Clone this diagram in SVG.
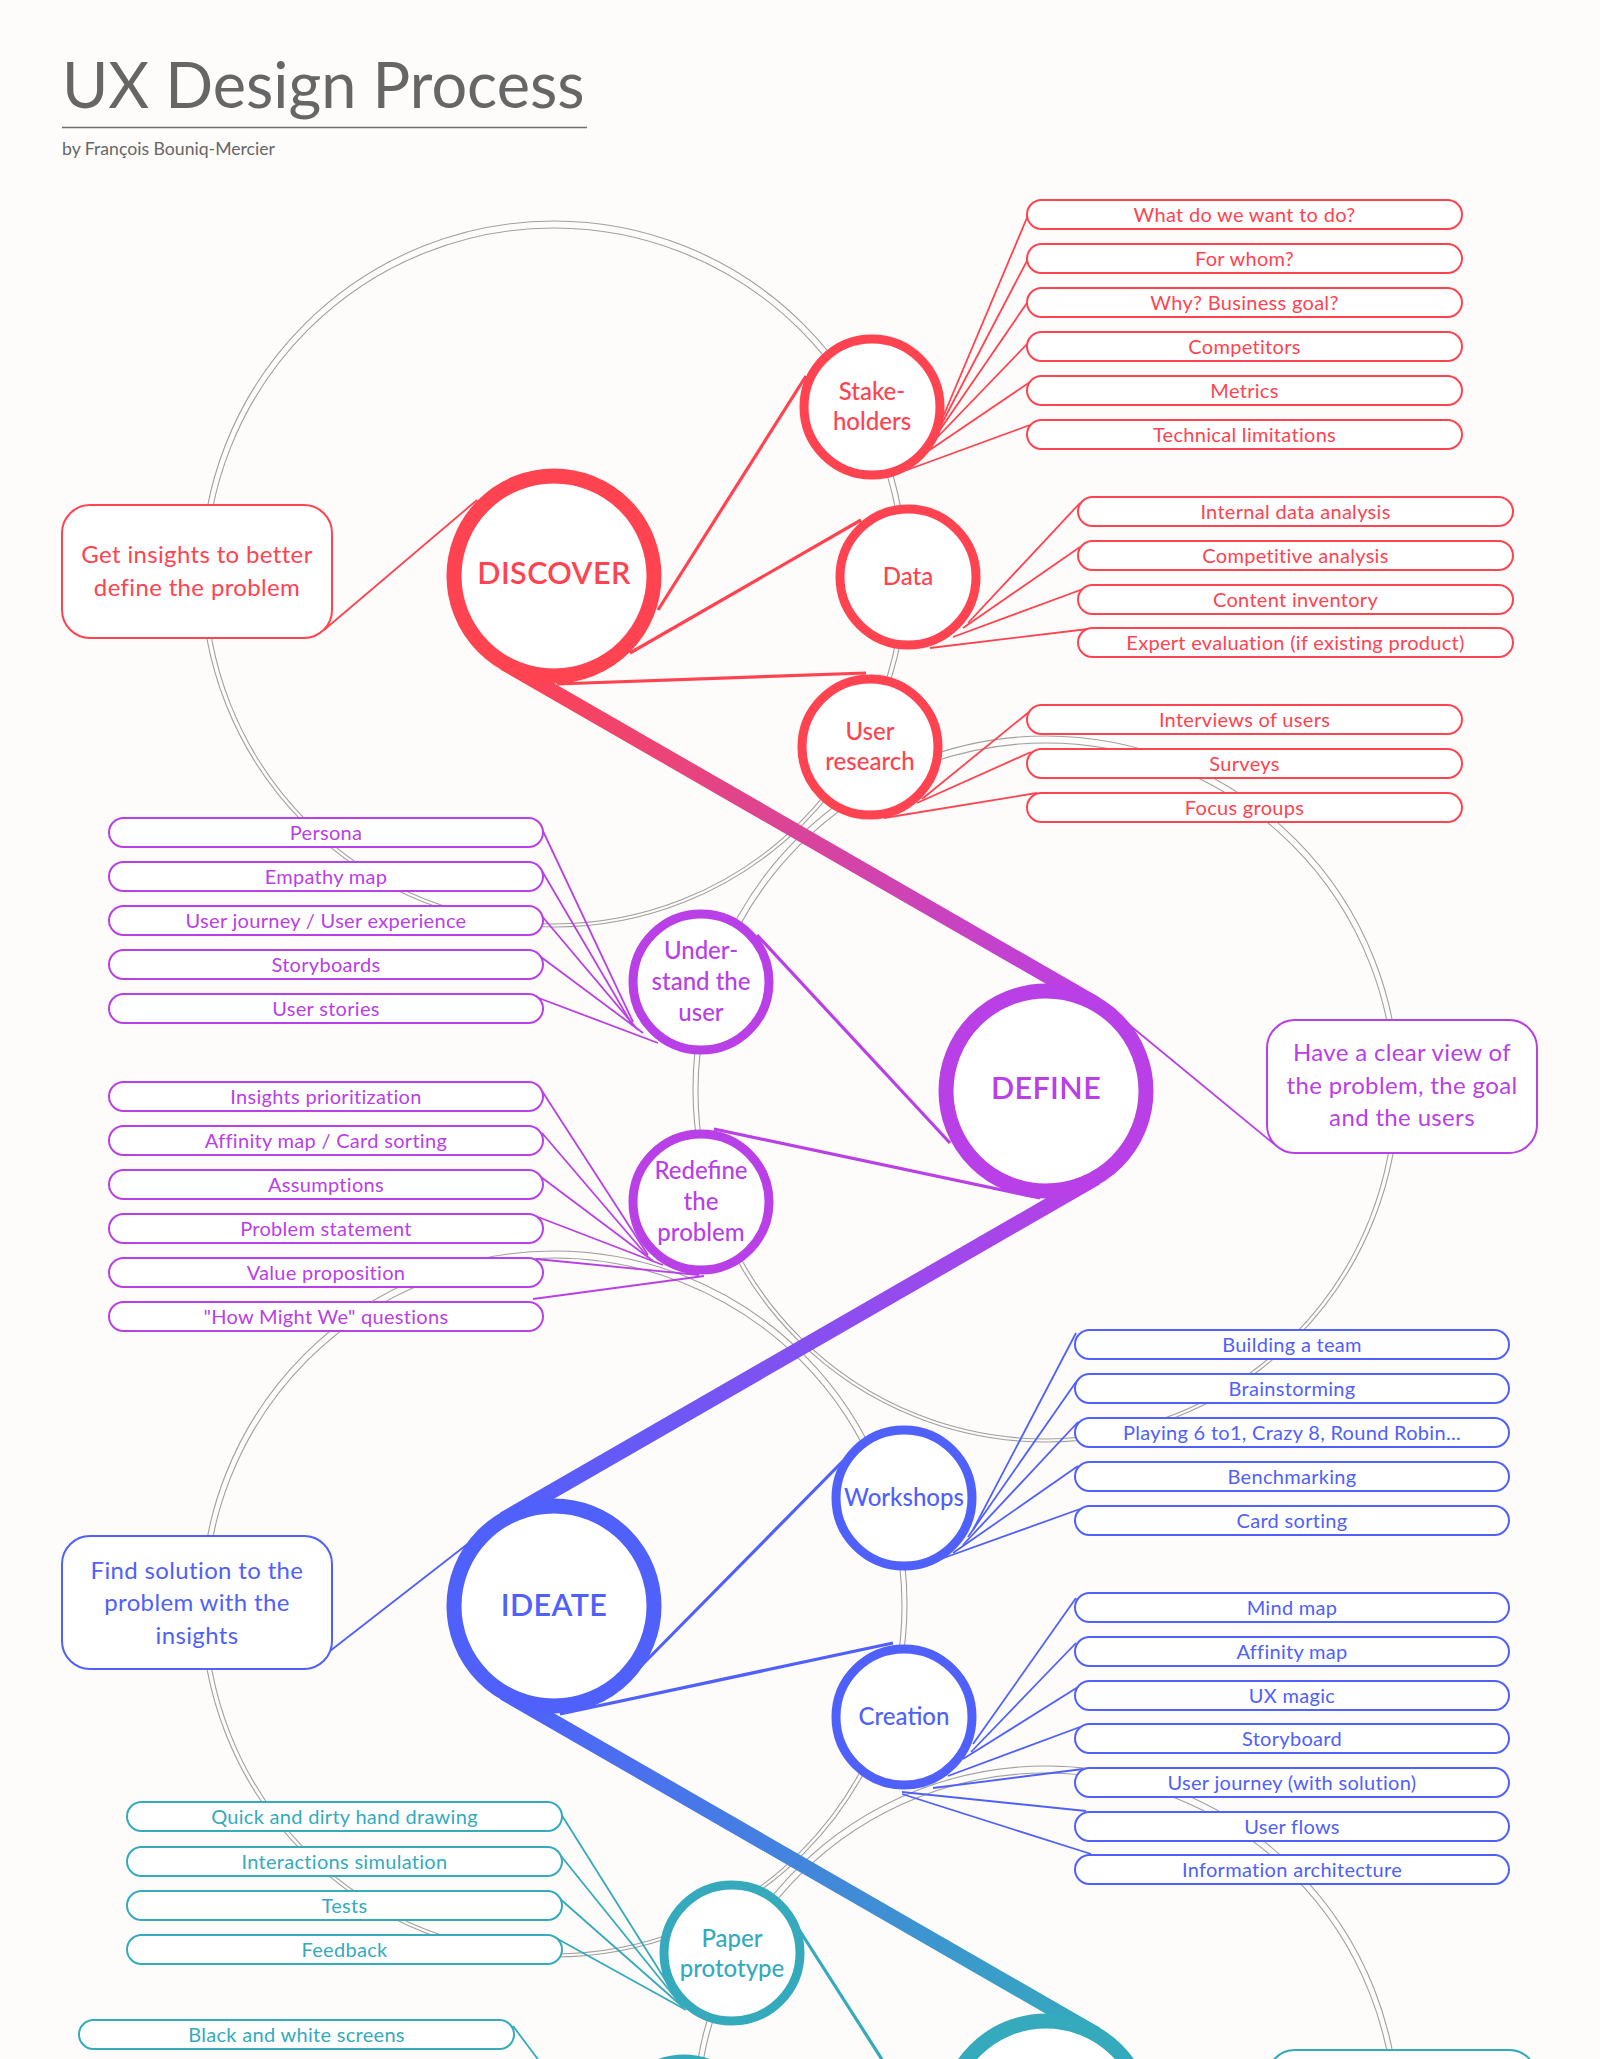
<svg xmlns="http://www.w3.org/2000/svg" width="1600" height="2059" viewBox="0 0 1600 2059">
<defs>
<style>
.bg{fill:#fdfcfa}
.grey{fill:none;stroke:#a0a0a0;stroke-width:1.1}
.box{fill:#ffffff;stroke-width:2}
.desc{fill:#ffffff;stroke-width:2}
.ring{fill:#ffffff;stroke-width:15}
.sub{fill:#ffffff;stroke-width:9}
.fan{fill:none;stroke-width:1.8}
.main{fill:none;stroke-width:3.2}
.belt{fill:none;stroke-width:15;stroke-linecap:butt}
.lbl{font-family:Lato,"Noto Sans",sans-serif;font-size:20px;letter-spacing:0.3px;text-anchor:middle}
.dtx{font-family:Lato,"Noto Sans",sans-serif;font-size:24px;letter-spacing:0.35px;text-anchor:middle}
.stx{font-family:Lato,"Noto Sans",sans-serif;font-size:24px;font-weight:500;text-anchor:middle}
.ptx{font-family:Lato,"Noto Sans",sans-serif;font-size:30.5px;font-weight:600;letter-spacing:0.4px;text-anchor:middle}
.r{stroke:#ff4350}.tr{fill:#ff4350}
.p{stroke:#b940e6}.tp{fill:#b940e6}
.b{stroke:#5060fb}.tb{fill:#5060fb}
.t{stroke:#35aabd}.tt{fill:#35aabd}
</style>
<linearGradient id="gA" gradientUnits="userSpaceOnUse" x1="504" y1="663" x2="1096" y2="1004">
<stop offset="0" stop-color="#ff4350"/><stop offset="0.5" stop-color="#d9449a"/><stop offset="1" stop-color="#b940e6"/>
</linearGradient>
<linearGradient id="gB" gradientUnits="userSpaceOnUse" x1="1096" y1="1178" x2="504" y2="1519">
<stop offset="0" stop-color="#b940e6"/><stop offset="1" stop-color="#5060fb"/>
</linearGradient>
<linearGradient id="gC" gradientUnits="userSpaceOnUse" x1="504" y1="1693" x2="1096" y2="2034">
<stop offset="0" stop-color="#5060fb"/><stop offset="1" stop-color="#35aabd"/>
</linearGradient>
</defs>
<rect class="bg" x="0" y="0" width="1600" height="2059"/>

<g id="title">
<text x="62" y="108" font-family="Lato,'Noto Sans',sans-serif" font-size="63" fill="#666666">UX Design Process</text>
<line x1="62" y1="127.5" x2="587" y2="127.5" stroke="#6e6e6e" stroke-width="1.5"/>
<text x="62" y="155" font-family="Lato,'Noto Sans',sans-serif" font-size="18" fill="#666666" textLength="213" lengthAdjust="spacingAndGlyphs">by François Bouniq-Mercier</text>
</g>

<g id="background-circles">
<circle class="grey" cx="554" cy="576" r="348"/><circle class="grey" cx="554" cy="574" r="353"/>
<circle class="grey" cx="1046" cy="1091" r="348"/><circle class="grey" cx="1046" cy="1089" r="353"/>
<circle class="grey" cx="554" cy="1606" r="348"/><circle class="grey" cx="554" cy="1604" r="353"/>
<circle class="grey" cx="1046" cy="2121" r="348"/><circle class="grey" cx="1046" cy="2119" r="353"/>
</g>

<g id="connectors">
<g class="fan r">
<line x1="943" y1="417" x2="1029" y2="213"/>
<line x1="940" y1="427" x2="1029" y2="257"/>
<line x1="933" y1="440" x2="1029" y2="300"/>
<line x1="925" y1="450" x2="1029" y2="342"/>
<line x1="915" y1="460" x2="1030" y2="382"/>
<line x1="907" y1="470" x2="1030" y2="425"/>
<line x1="968" y1="623" x2="1080" y2="503"/>
<line x1="963" y1="628" x2="1080" y2="547"/>
<line x1="953" y1="637" x2="1083" y2="589"/>
<line x1="930" y1="648" x2="1088" y2="629"/>
<line x1="922" y1="799" x2="1029" y2="712"/>
<line x1="917" y1="803" x2="1031" y2="752"/>
<line x1="884" y1="818" x2="1037" y2="793"/>
<line x1="324" y1="630" x2="477" y2="500"/>
</g>
<g class="fan p">
<line x1="633" y1="1022" x2="542" y2="829"/>
<line x1="633" y1="1026" x2="542" y2="871"/>
<line x1="638" y1="1030" x2="541" y2="915"/>
<line x1="643" y1="1033" x2="541" y2="957"/>
<line x1="658" y1="1043" x2="536" y2="997"/>
<line x1="648" y1="1255" x2="542" y2="1091"/>
<line x1="648" y1="1257" x2="542" y2="1133"/>
<line x1="653" y1="1261" x2="541" y2="1177"/>
<line x1="663" y1="1265" x2="538" y2="1217"/>
<line x1="699" y1="1275" x2="536" y2="1259"/>
<line x1="704" y1="1276" x2="533" y2="1299"/>
<line x1="1127" y1="1023" x2="1274" y2="1144"/>
</g>
<g class="fan b">
<line x1="973" y1="1530" x2="1076" y2="1333"/>
<line x1="968" y1="1537" x2="1076" y2="1382"/>
<line x1="963" y1="1545" x2="1078" y2="1422"/>
<line x1="953" y1="1553" x2="1078" y2="1466"/>
<line x1="938" y1="1560" x2="1080" y2="1509"/>
<line x1="973" y1="1744" x2="1076" y2="1598"/>
<line x1="971" y1="1752" x2="1076" y2="1643"/>
<line x1="963" y1="1759" x2="1078" y2="1687"/>
<line x1="948" y1="1776" x2="1080" y2="1727"/>
<line x1="933" y1="1788" x2="1083" y2="1769"/>
<line x1="902" y1="1792" x2="1086" y2="1811"/>
<line x1="902" y1="1794" x2="1091" y2="1854"/>
<line x1="321" y1="1658" x2="474" y2="1539"/>
</g>
<g class="fan t">
<line x1="681" y1="2005" x2="561" y2="1814"/>
<line x1="682" y1="2006" x2="561" y2="1856"/>
<line x1="684" y1="2008" x2="559" y2="1898"/>
<line x1="686" y1="2010" x2="556" y2="1938"/>
<line x1="513" y1="2026" x2="540" y2="2062"/>
</g>
<g class="main">
<line class="r" x1="658" y1="610" x2="806" y2="376"/>
<line class="r" x1="630" y1="653" x2="861" y2="520"/>
<line class="r" x1="557" y1="684" x2="866" y2="673"/>
<line class="p" x1="757" y1="935" x2="950" y2="1143"/>
<line class="p" x1="714" y1="1129" x2="1040" y2="1198"/>
<line class="b" x1="638" y1="1669" x2="843" y2="1461"/>
<line class="b" x1="560" y1="1714" x2="893" y2="1643"/>
<line class="t" x1="798" y1="1928" x2="890" y2="2072"/>
</g>
<g id="belt">
<line class="belt" x1="504" y1="663" x2="1096" y2="1004" stroke="url(#gA)"/>
<line class="belt" x1="1096" y1="1178" x2="504" y2="1519" stroke="url(#gB)"/>
<line class="belt" x1="504" y1="1693" x2="1096" y2="2034" stroke="url(#gC)"/>
</g>
</g>

<g id="discover"><circle class="ring r" cx="554" cy="576" r="100"/><text class="ptx tr" x="554" y="584">DISCOVER</text></g>
<g id="define"><circle class="ring p" cx="1046" cy="1091" r="100"/><text class="ptx tp" x="1046" y="1099">DEFINE</text></g>
<g id="ideate"><circle class="ring b" cx="554" cy="1606" r="100"/><text class="ptx tb" x="554" y="1616">IDEATE</text></g>
<g id="phase4"><circle class="ring t" cx="1046" cy="2121" r="100"/></g>

<g id="stakeholders"><circle class="sub r" cx="872" cy="407" r="68"/><text class="stx tr" x="872" y="400">Stake-</text><text class="stx tr" x="872" y="430">holders</text></g>
<g id="data"><circle class="sub r" cx="908" cy="577" r="68"/><text class="stx tr" x="908" y="585">Data</text></g>
<g id="user-research"><circle class="sub r" cx="870" cy="747" r="68"/><text class="stx tr" x="870" y="740">User</text><text class="stx tr" x="870" y="770">research</text></g>
<g id="understand"><circle class="sub p" cx="701" cy="982" r="68"/><text class="stx tp" x="701" y="959">Under-</text><text class="stx tp" x="701" y="990">stand the</text><text class="stx tp" x="701" y="1021">user</text></g>
<g id="redefine"><circle class="sub p" cx="701" cy="1202" r="68"/><text class="stx tp" x="701" y="1179">Redefine</text><text class="stx tp" x="701" y="1210">the</text><text class="stx tp" x="701" y="1241">problem</text></g>
<g id="workshops"><circle class="sub b" cx="904" cy="1498" r="68"/><text class="stx tb" x="904" y="1506">Workshops</text></g>
<g id="creation"><circle class="sub b" cx="904" cy="1717" r="68"/><text class="stx tb" x="904" y="1725">Creation</text></g>
<g id="paper-prototype"><circle class="sub t" cx="732" cy="1953" r="68"/><text class="stx tt" x="732" y="1947">Paper</text><text class="stx tt" x="732" y="1977">prototype</text></g>
<g id="teal-sub2"><circle class="sub t" cx="684" cy="2127" r="68"/></g>

<g id="desc-discover"><rect class="desc r" x="62" y="505" width="270" height="133" rx="28"/><text class="dtx tr" x="197" y="563">Get insights to better</text><text class="dtx tr" x="197" y="596">define the problem</text></g>
<g id="desc-define"><rect class="desc p" x="1267" y="1020" width="270" height="133" rx="28"/><text class="dtx tp" x="1402" y="1061">Have a clear view of</text><text class="dtx tp" x="1402" y="1094">the problem, the goal</text><text class="dtx tp" x="1402" y="1126">and the users</text></g>
<g id="desc-ideate"><rect class="desc b" x="62" y="1536" width="270" height="133" rx="28"/><text class="dtx tb" x="197" y="1579">Find solution to the</text><text class="dtx tb" x="197" y="1611">problem with the</text><text class="dtx tb" x="197" y="1644">insights</text></g>
<g id="desc-phase4"><rect class="desc t" x="1267" y="2050" width="270" height="133" rx="28"/></g>

<g id="stakeholder-items">
<g id="s1"><rect class="box r" x="1027" y="200" width="435" height="29" rx="14.5"/><text class="lbl tr" x="1244.5" y="222">What do we want to do?</text></g>
<g id="s2"><rect class="box r" x="1027" y="244" width="435" height="29" rx="14.5"/><text class="lbl tr" x="1244.5" y="266">For whom?</text></g>
<g id="s3"><rect class="box r" x="1027" y="288" width="435" height="29" rx="14.5"/><text class="lbl tr" x="1244.5" y="310">Why? Business goal?</text></g>
<g id="s4"><rect class="box r" x="1027" y="332" width="435" height="29" rx="14.5"/><text class="lbl tr" x="1244.5" y="354">Competitors</text></g>
<g id="s5"><rect class="box r" x="1027" y="376" width="435" height="29" rx="14.5"/><text class="lbl tr" x="1244.5" y="398">Metrics</text></g>
<g id="s6"><rect class="box r" x="1027" y="420" width="435" height="29" rx="14.5"/><text class="lbl tr" x="1244.5" y="442">Technical limitations</text></g>
</g>
<g id="data-items">
<g id="d1"><rect class="box r" x="1078" y="497" width="435" height="29" rx="14.5"/><text class="lbl tr" x="1295.5" y="519">Internal data analysis</text></g>
<g id="d2"><rect class="box r" x="1078" y="541" width="435" height="29" rx="14.5"/><text class="lbl tr" x="1295.5" y="563">Competitive analysis</text></g>
<g id="d3"><rect class="box r" x="1078" y="585" width="435" height="29" rx="14.5"/><text class="lbl tr" x="1295.5" y="607">Content inventory</text></g>
<g id="d4"><rect class="box r" x="1078" y="628" width="435" height="29" rx="14.5"/><text class="lbl tr" x="1295.5" y="650">Expert evaluation (if existing product)</text></g>
</g>
<g id="research-items">
<g id="u1"><rect class="box r" x="1027" y="705" width="435" height="29" rx="14.5"/><text class="lbl tr" x="1244.5" y="727">Interviews of users</text></g>
<g id="u2"><rect class="box r" x="1027" y="749" width="435" height="29" rx="14.5"/><text class="lbl tr" x="1244.5" y="771">Surveys</text></g>
<g id="u3"><rect class="box r" x="1027" y="793" width="435" height="29" rx="14.5"/><text class="lbl tr" x="1244.5" y="815">Focus groups</text></g>
</g>
<g id="understand-items">
<g id="a1"><rect class="box p" x="109" y="818" width="434" height="29" rx="14.5"/><text class="lbl tp" x="326" y="840">Persona</text></g>
<g id="a2"><rect class="box p" x="109" y="862" width="434" height="29" rx="14.5"/><text class="lbl tp" x="326" y="884">Empathy map</text></g>
<g id="a3"><rect class="box p" x="109" y="906" width="434" height="29" rx="14.5"/><text class="lbl tp" x="326" y="928">User journey / User experience</text></g>
<g id="a4"><rect class="box p" x="109" y="950" width="434" height="29" rx="14.5"/><text class="lbl tp" x="326" y="972">Storyboards</text></g>
<g id="a5"><rect class="box p" x="109" y="994" width="434" height="29" rx="14.5"/><text class="lbl tp" x="326" y="1016">User stories</text></g>
</g>
<g id="redefine-items">
<g id="e1"><rect class="box p" x="109" y="1082" width="434" height="29" rx="14.5"/><text class="lbl tp" x="326" y="1104">Insights prioritization</text></g>
<g id="e2"><rect class="box p" x="109" y="1126" width="434" height="29" rx="14.5"/><text class="lbl tp" x="326" y="1148">Affinity map / Card sorting</text></g>
<g id="e3"><rect class="box p" x="109" y="1170" width="434" height="29" rx="14.5"/><text class="lbl tp" x="326" y="1192">Assumptions</text></g>
<g id="e4"><rect class="box p" x="109" y="1214" width="434" height="29" rx="14.5"/><text class="lbl tp" x="326" y="1236">Problem statement</text></g>
<g id="e5"><rect class="box p" x="109" y="1258" width="434" height="29" rx="14.5"/><text class="lbl tp" x="326" y="1280">Value proposition</text></g>
<g id="e6"><rect class="box p" x="109" y="1302" width="434" height="29" rx="14.5"/><text class="lbl tp" x="326" y="1324">"How Might We" questions</text></g>
</g>
<g id="workshop-items">
<g id="w1"><rect class="box b" x="1075" y="1330" width="434" height="29" rx="14.5"/><text class="lbl tb" x="1292" y="1352">Building a team</text></g>
<g id="w2"><rect class="box b" x="1075" y="1374" width="434" height="29" rx="14.5"/><text class="lbl tb" x="1292" y="1396">Brainstorming</text></g>
<g id="w3"><rect class="box b" x="1075" y="1418" width="434" height="29" rx="14.5"/><text class="lbl tb" x="1292" y="1440">Playing 6 to1, Crazy 8, Round Robin...</text></g>
<g id="w4"><rect class="box b" x="1075" y="1462" width="434" height="29" rx="14.5"/><text class="lbl tb" x="1292" y="1484">Benchmarking</text></g>
<g id="w5"><rect class="box b" x="1075" y="1506" width="434" height="29" rx="14.5"/><text class="lbl tb" x="1292" y="1528">Card sorting</text></g>
</g>
<g id="creation-items">
<g id="c1"><rect class="box b" x="1075" y="1593" width="434" height="29" rx="14.5"/><text class="lbl tb" x="1292" y="1615">Mind map</text></g>
<g id="c2"><rect class="box b" x="1075" y="1637" width="434" height="29" rx="14.5"/><text class="lbl tb" x="1292" y="1659">Affinity map</text></g>
<g id="c3"><rect class="box b" x="1075" y="1681" width="434" height="29" rx="14.5"/><text class="lbl tb" x="1292" y="1703">UX magic</text></g>
<g id="c4"><rect class="box b" x="1075" y="1724" width="434" height="29" rx="14.5"/><text class="lbl tb" x="1292" y="1746">Storyboard</text></g>
<g id="c5"><rect class="box b" x="1075" y="1768" width="434" height="29" rx="14.5"/><text class="lbl tb" x="1292" y="1790">User journey (with solution)</text></g>
<g id="c6"><rect class="box b" x="1075" y="1812" width="434" height="29" rx="14.5"/><text class="lbl tb" x="1292" y="1834">User flows</text></g>
<g id="c7"><rect class="box b" x="1075" y="1855" width="434" height="29" rx="14.5"/><text class="lbl tb" x="1292" y="1877">Information architecture</text></g>
</g>
<g id="paper-items">
<g id="q1"><rect class="box t" x="127" y="1802" width="435" height="29" rx="14.5"/><text class="lbl tt" x="344.5" y="1824">Quick and dirty hand drawing</text></g>
<g id="q2"><rect class="box t" x="127" y="1847" width="435" height="29" rx="14.5"/><text class="lbl tt" x="344.5" y="1869">Interactions simulation</text></g>
<g id="q3"><rect class="box t" x="127" y="1891" width="435" height="29" rx="14.5"/><text class="lbl tt" x="344.5" y="1913">Tests</text></g>
<g id="q4"><rect class="box t" x="127" y="1935" width="435" height="29" rx="14.5"/><text class="lbl tt" x="344.5" y="1957">Feedback</text></g>
<g id="q5"><rect class="box t" x="79" y="2020" width="435" height="29" rx="14.5"/><text class="lbl tt" x="296.5" y="2042">Black and white screens</text></g>
</g>
</svg>
